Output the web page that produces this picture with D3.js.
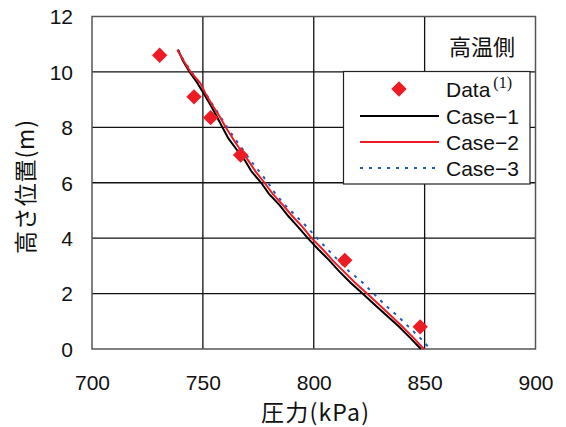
<!DOCTYPE html>
<html><head><meta charset="utf-8">
<script src="https://cdn.jsdelivr.net/npm/d3@7"></script>
<style>body{margin:0;background:#fff}svg{display:block}</style>
</head><body>
<script>
const xTicks = [700, 750, 800, 850, 900];
const yTicks = [0, 2, 4, 6, 8, 10, 12];
const dataP = [730.5, 746, 753.5, 767, 814, 848];
const dataH = [10.6, 9.1, 8.35, 7.0, 3.2, 0.8];
const heights = [10.8,10.4,10.0,9.6,9.2,8.8,8.4,8.0,7.6,7.2,6.8,6.4,6.0,5.6,5.2,4.8,4.4,4.0,3.6,3.2,2.8,2.4,2.0,1.6,1.2,0.8,0.4,0.0];
const case1 = [738.8,741.0,744.0,747.5,750.5,753.5,756.2,758.8,761.5,765.2,769.0,772.0,776.3,779.8,784.5,788.5,793.0,797.3,802.0,807.0,811.5,816.5,822.0,827.5,833.0,838.5,843.5,848.3];
const case2 = [738.5,741.3,744.5,748.8,751.3,754.3,757.5,760.3,763.5,766.8,770.5,773.8,777.8,781.5,786.0,790.3,795.0,799.0,804.0,808.5,813.5,818.5,824.0,829.5,834.8,840.0,845.0,849.7];
const case3 = [738.6,741.5,744.8,748.5,751.5,754.5,757.8,761.0,764.3,768.0,771.5,775.5,779.4,782.7,787.0,792.0,797.0,801.5,806.2,811.0,816.0,822.0,827.0,832.0,837.7,842.8,848.0,852.5];
const legendLabels = ["Data", "Case-1", "Case-2", "Case-3"];
const panelLabel = "高温側";
const xLabel = "圧力(kPa)";
const yLabel = "高さ位置(m)";

const W = 566, H = 427;
const L = 92, R = 535.5, T = 16.5, B = 349;
const red = "#ed1c24", blue = "#1f5cb8";
const svg = d3.select("body").append("svg").attr("width", W).attr("height", H);
const x = d3.scaleLinear().domain([700, 900]).range([L, R]);
const y = d3.scaleLinear().domain([0, 12]).range([B, T]);
const font = "'Liberation Sans', Arial, sans-serif";
const cjk = "'Noto Sans CJK JP', sans-serif";

// grid
const g = svg.append("g");
g.selectAll(".vx").data(xTicks.slice(1, -1)).join("line")
  .attr("x1", d => x(d)).attr("x2", d => x(d)).attr("y1", T).attr("y2", B)
  .attr("stroke", "#111").attr("stroke-width", 1.3);
g.selectAll(".hy").data(yTicks.slice(1, -1)).join("line")
  .attr("y1", d => y(d)).attr("y2", d => y(d)).attr("x1", L).attr("x2", R)
  .attr("stroke", "#111").attr("stroke-width", 1.3);
svg.append("rect").attr("x", L).attr("y", T).attr("width", R - L).attr("height", B - T)
  .attr("fill", "none").attr("stroke", "#555").attr("stroke-width", 1.5);

// axes labels
const xAxis = d3.axisBottom(x).tickValues(xTicks).tickSize(0).tickPadding(0);
const xa = svg.append("g").attr("transform", `translate(0,${B + 26})`).call(xAxis);
xa.select(".domain").remove();
xa.selectAll("text").attr("font-family", font).attr("font-size", 21).attr("fill", "#111").attr("dy", "0.71em");
const yAxis = d3.axisLeft(y).tickValues(yTicks).tickSize(0).tickPadding(0);
const ya = svg.append("g").attr("transform", `translate(${L - 19},0)`).call(yAxis);
ya.select(".domain").remove();
ya.selectAll("text").attr("font-family", font).attr("font-size", 21).attr("fill", "#111").attr("dy", "0.35em");

svg.append("text").attr("x", 315).attr("y", 421).attr("text-anchor", "middle")
  .attr("font-family", cjk).attr("font-size", 23).attr("fill", "#111")
  .attr("textLength", 108).attr("lengthAdjust", "spacing").text(xLabel);
svg.append("text").attr("transform", "translate(34,187) rotate(-90)").attr("text-anchor", "middle")
  .attr("font-family", cjk).attr("font-size", 23).attr("fill", "#111")
  .attr("textLength", 134).attr("lengthAdjust", "spacing").text(yLabel);

// lines
const line = arr => d3.line().x((d, i) => x(arr[i])).y(d => y(d))(heights);
svg.append("path").attr("d", line(case3)).attr("fill", "none").attr("stroke", blue)
  .attr("stroke-width", 2).attr("stroke-dasharray", "3,6");
svg.append("path").attr("d", line(case1)).attr("fill", "none").attr("stroke", "#000").attr("stroke-width", 2);
svg.append("path").attr("d", line(case2)).attr("fill", "none").attr("stroke", red).attr("stroke-width", 2);

// markers
const diamond = d3.symbol().type(d3.symbolDiamond2).size(150);
svg.selectAll(".pt").data(dataP).join("path")
  .attr("d", diamond).attr("fill", red)
  .attr("transform", (d, i) => `translate(${x(d)},${y(dataH[i])})`);

// panel label
svg.append("text").attr("x", 482).attr("y", 55).attr("text-anchor", "middle")
  .attr("font-family", cjk).attr("font-size", 22).attr("fill", "#111").text(panelLabel);

// legend
const lg = svg.append("g");
lg.append("rect").attr("x", 343.5).attr("y", 71.5).attr("width", 186.5).attr("height", 112.5)
  .attr("fill", "#fff").attr("stroke", "#222").attr("stroke-width", 1.2);
const rowY = [89, 116, 142, 168];
lg.append("path").attr("d", diamond).attr("fill", red).attr("transform", `translate(399,${rowY[0]})`);
const styles = [["#000", null], [red, null], [blue, "3,6"]];
styles.forEach((s, i) => {
  lg.append("line").attr("x1", 360).attr("x2", 439).attr("y1", rowY[i + 1]).attr("y2", rowY[i + 1])
    .attr("stroke", s[0]).attr("stroke-width", 2).attr("stroke-dasharray", s[1]);
});
legendLabels.forEach((t, i) => {
  const tx = lg.append("text").attr("x", 446).attr("y", rowY[i]).attr("dy", "0.36em")
    .attr("font-family", font).attr("font-size", 21).attr("fill", "#111").text(t.replace("-", "−"));
  if (i === 0) {
    tx.append("tspan").attr("font-family", "'Liberation Serif', serif").attr("font-size", 16)
      .attr("dy", "-0.55em").attr("dx", 3).text("(1)");
  }
});
</script>
</body></html>
